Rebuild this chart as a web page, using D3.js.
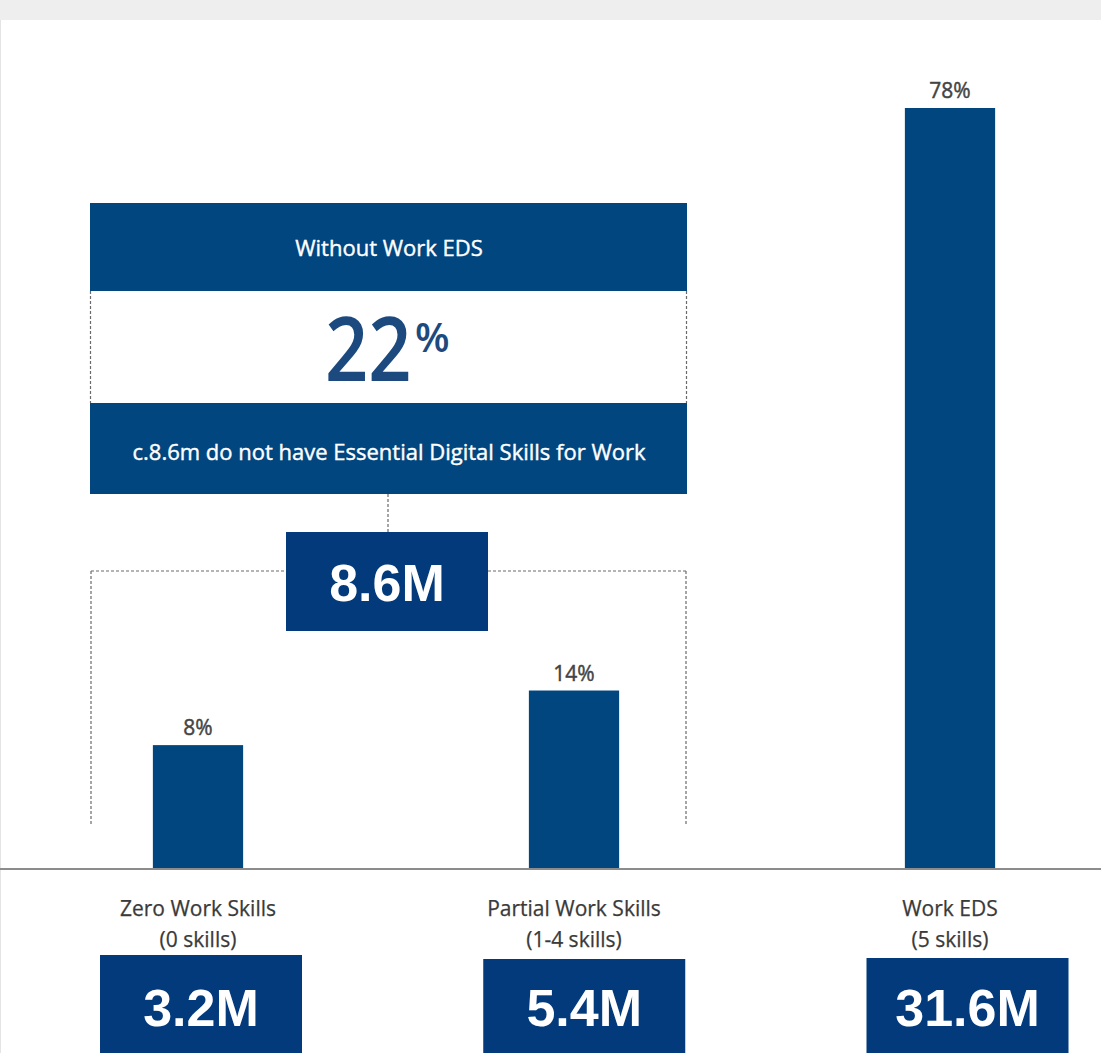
<!DOCTYPE html>
<html><head><meta charset="utf-8">
<script src="https://cdn.jsdelivr.net/npm/d3@7"></script>
<style>html,body{margin:0;padding:0;background:#fff;}svg{display:block;}</style>
</head><body>
<script>
const categories = ["Zero Work Skills", "Partial Work Skills", "Work EDS"];
const subLabels = ["(0 skills)", "(1-4 skills)", "(5 skills)"];
const shares = [8, 14, 78];
const shareLabels = ["8%", "14%", "78%"];
const counts = ["3.2M", "5.4M", "31.6M"];
const groupTitle = "Without Work EDS";
const groupShare = "22";
const groupNote = "c.8.6m do not have Essential Digital Skills for Work";
const groupCount = "8.6M";

const W = 1101, H = 1053;
const barBlue = "#01467f", boxBlue = "#023a7b", textGrey = "#3a3a3a";
const sans = "'Open Sans', 'Noto Sans', sans-serif";
const boldSans = "'Liberation Sans', Arial, sans-serif";

const svg = d3.select("body").append("svg").attr("width", W).attr("height", H);
svg.append("rect").attr("x",0).attr("y",0).attr("width",W).attr("height",H).attr("fill","#fff");
svg.append("rect").attr("x",0).attr("y",0).attr("width",W).attr("height",20).attr("fill","#eeeeee");
svg.append("line").attr("x1",0.5).attr("x2",0.5).attr("y1",20).attr("y2",H).attr("stroke","#e4e4e4");

const x = d3.scaleBand().domain(categories).range([10, 1138]).paddingInner(0.76).paddingOuter(0.38);
const xBox = d3.scalePoint().domain(categories).range([201, 967.5]);
const y = d3.scaleLinear().domain([-5.5, 78]).range([868, 108]);
const baseY = y(-5.5);

// dashed bracket around the first two categories
const gx0 = 91, gx1 = 686, gy = 571;
const dash = {stroke:"#6a6a6a", "stroke-width":1.2, "stroke-dasharray":"3,2"};
function dline(x1,y1,x2,y2){ const l = svg.append("line").attr("x1",x1).attr("y1",y1).attr("x2",x2).attr("y2",y2); for(const k in dash) l.attr(k,dash[k]); }
dline(gx0, gy, 286, gy); dline(488, gy, gx1, gy);
dline(gx0, gy, gx0, 826); dline(gx1, gy, gx1, 826);

// Bars
svg.selectAll(".bar").data(shares).join("rect").attr("class","bar")
  .attr("x",(d,i)=>x(categories[i])).attr("width",x.bandwidth())
  .attr("y",d=>y(d)).attr("height",d=>baseY - y(d)).attr("fill",barBlue);

svg.selectAll(".pct").data(shares).join("text").attr("class","pct")
  .attr("x",(d,i)=>x(categories[i])+x.bandwidth()/2).attr("y",d=>y(d)-10)
  .attr("text-anchor","middle").attr("font-family",sans).attr("font-size",21)
  .attr("fill","#444").attr("stroke","#444").attr("stroke-width",0.45).text((d,i)=>shareLabels[i]);

// baseline
svg.append("line").attr("x1",0).attr("x2",W).attr("y1",baseY+1).attr("y2",baseY+1).attr("stroke","#8c8c8c").attr("stroke-width",2);

// category labels
svg.selectAll(".cat").data(categories).join("text").attr("class","cat")
  .attr("x",d=>x(d)+x.bandwidth()/2).attr("y",916)
  .attr("text-anchor","middle").attr("font-family",sans).attr("font-size",21).attr("fill",textGrey)
  .attr("stroke",textGrey).attr("stroke-width",0.25).text(d=>d);
svg.selectAll(".sub").data(subLabels).join("text").attr("class","sub")
  .attr("x",(d,i)=>x(categories[i])+x.bandwidth()/2).attr("y",947)
  .attr("text-anchor","middle").attr("font-family",sans).attr("font-size",21).attr("fill",textGrey)
  .attr("stroke",textGrey).attr("stroke-width",0.25).text(d=>d);

// count boxes
const boxTops = [955, 959, 958];
const cb = svg.selectAll(".cbox").data(counts).join("g").attr("class","cbox")
  .attr("transform",(d,i)=>`translate(${xBox(categories[i])},${boxTops[i]})`);
cb.append("rect").attr("x",-101).attr("y",0).attr("width",202).attr("height",100).attr("fill",boxBlue);
cb.append("text").attr("x",0).attr("y",(d,i)=>71 - (boxTops[i]-955)).attr("text-anchor","middle").attr("font-family",boldSans)
  .attr("font-weight","bold").attr("font-size",52).attr("fill","#fff").text(d=>d);

// group summary box
const bx0 = 90, bx1 = 687;
const g = svg.append("g");
g.append("rect").attr("x",bx0).attr("y",203).attr("width",bx1-bx0).attr("height",88).attr("fill",barBlue);
g.append("rect").attr("x",bx0).attr("y",403).attr("width",bx1-bx0).attr("height",91).attr("fill",barBlue);
dline(bx0+0.5, 291, bx0+0.5, 403); dline(bx1-0.5, 291, bx1-0.5, 403);
const cx = (bx0+bx1)/2 + 0.5;
g.append("text").attr("x",cx).attr("y",256).attr("text-anchor","middle").attr("font-family",sans)
  .attr("font-size",22).attr("fill","#fff").attr("stroke","#fff").attr("stroke-width",0.4).text(groupTitle);
g.append("text").attr("x",cx).attr("y",460).attr("text-anchor","middle").attr("font-family",sans)
  .attr("font-size",22).attr("fill","#fff").attr("stroke","#fff").attr("stroke-width",0.4).text(groupNote);
g.append("text").attr("transform","translate(325,381) scale(0.86,1)").attr("font-family",sans)
  .attr("font-weight",600).attr("font-size",88).attr("fill","#1c4a7f").text(groupShare);
g.append("text").attr("x",415).attr("y",352).attr("font-family",sans)
  .attr("font-weight",600).attr("font-size",40).attr("fill","#1c4a7f").text("%");

// connector and group count box
dline(388, 494, 388, 532);
svg.append("rect").attr("x",286).attr("y",532).attr("width",202).attr("height",99).attr("fill",boxBlue);
svg.append("text").attr("x",387).attr("y",601).attr("text-anchor","middle").attr("font-family",boldSans)
  .attr("font-weight","bold").attr("font-size",52).attr("fill","#fff").text(groupCount);
</script>
</body></html>
